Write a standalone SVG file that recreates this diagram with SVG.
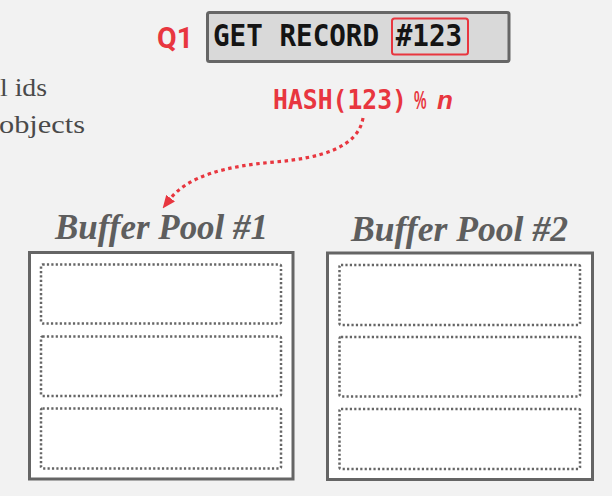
<svg xmlns="http://www.w3.org/2000/svg" width="612" height="496" viewBox="0 0 612 496">
  <style>
    .red { fill: #e8363f; }
    .mono { font-family: "DejaVu Sans Mono", "Liberation Mono", monospace; font-weight: bold; }
    .title { font-family: "Liberation Serif", "DejaVu Serif", serif; font-weight: bold; font-style: italic; font-size: 35px; fill: #5e5e5e; }
    .body { font-family: "Liberation Serif", "DejaVu Serif", serif; font-size: 25px; fill: #4a4a4a; }
    .pool { fill: #ffffff; stroke: #656565; stroke-width: 3; }
    .slot { fill: #ffffff; stroke: #666666; stroke-width: 2.5; stroke-dasharray: 2.2 2.2; }
  </style>
  <defs>
    <marker id="arrow" markerUnits="userSpaceOnUse" viewBox="0 0 13 11" refX="1" refY="5.5" markerWidth="13" markerHeight="11" orient="auto">
      <path d="M0,0 L13,5.5 L0,11 z" fill="#e8363f"/>
    </marker>
  </defs>
  <rect x="0" y="0" width="612" height="496" fill="#f2f2f2"/>

  <g id="side-text">
    <text class="body" x="47" y="96" text-anchor="end" textLength="47" lengthAdjust="spacingAndGlyphs">l ids</text>
    <text class="body" x="85" y="133" text-anchor="end" textLength="86" lengthAdjust="spacingAndGlyphs">objects</text>
  </g>

  <g id="query">
    <text x="157" y="48" font-family="Roboto, 'Liberation Sans', sans-serif" font-weight="bold" font-size="29" class="red" textLength="36" lengthAdjust="spacingAndGlyphs">Q1</text>
    <rect x="207.5" y="12.5" width="301.5" height="49" rx="2" fill="#d9d9d9" stroke="#666666" stroke-width="3"/>
    <text class="mono" x="213" y="46" font-size="27.6" fill="#141414" transform="translate(0,-4.6) scale(1,1.1)">GET RECORD #123</text>
    <rect x="392" y="18.5" width="76" height="36" rx="2.5" fill="none" stroke="#e8363f" stroke-width="2"/>
  </g>

  <g id="hash">
    <text class="mono red" x="273" y="109" font-size="24.6" textLength="134" lengthAdjust="spacingAndGlyphs" transform="translate(0,-8.7) scale(1,1.08)">HASH(123)</text>
    <text class="red" x="414" y="109" font-family="'Liberation Sans', sans-serif" font-weight="bold" font-size="25" textLength="12.5" lengthAdjust="spacingAndGlyphs">%</text>
    <text x="437" y="109" font-family="'Liberation Sans', sans-serif" font-weight="bold" font-style="italic" font-size="26" class="red">n</text>
  </g>

  <g id="connectors">
    <path d="M 363 118 C 358 148, 320 158, 275 162 C 226 166, 188 176, 170 199" fill="none" stroke="#e8363f" stroke-width="3.2" stroke-dasharray="3.5 3.6" marker-end="url(#arrow)"/>
  </g>

  <g id="buffer-pool-1">
    <text class="title" x="55" y="239" textLength="213" lengthAdjust="spacingAndGlyphs">Buffer Pool #1</text>
    <rect class="pool" x="29.5" y="252.5" width="263.5" height="226.5"/>
    <rect class="slot" x="41" y="264.5" width="240" height="59" rx="1.5"/>
    <rect class="slot" x="41" y="336.5" width="240" height="59.5" rx="1.5"/>
    <rect class="slot" x="41" y="408.5" width="240" height="60" rx="1.5"/>
  </g>

  <g id="buffer-pool-2">
    <text class="title" x="351" y="240.5" textLength="217" lengthAdjust="spacingAndGlyphs">Buffer Pool #2</text>
    <rect class="pool" x="327.5" y="253" width="265" height="226.5"/>
    <rect class="slot" x="339.5" y="265" width="240.5" height="60" rx="1.5"/>
    <rect class="slot" x="339.5" y="337" width="240.5" height="59.5" rx="1.5"/>
    <rect class="slot" x="339.5" y="409" width="240.5" height="60" rx="1.5"/>
  </g>
</svg>
